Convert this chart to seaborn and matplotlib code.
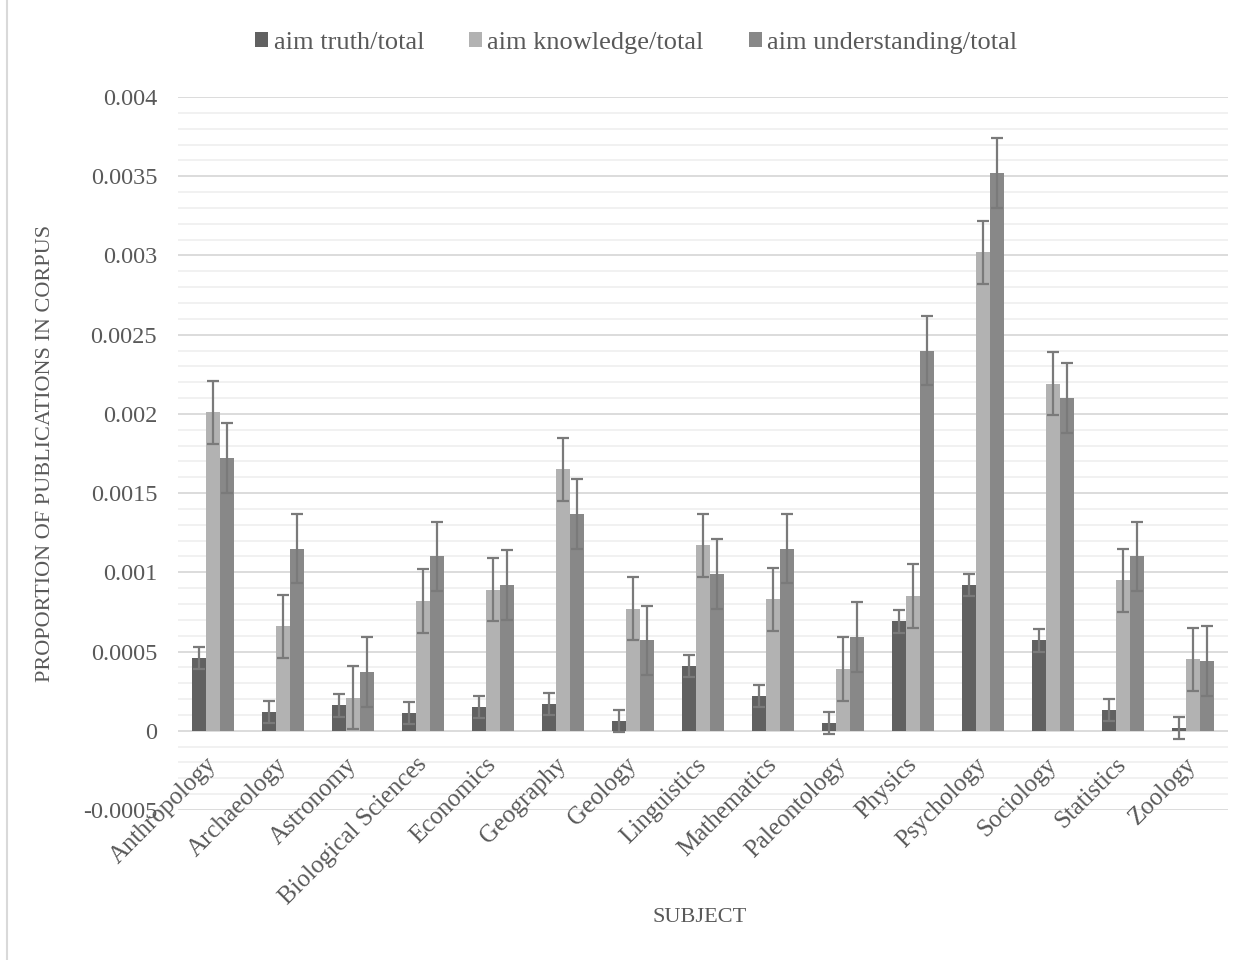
import matplotlib
matplotlib.use("Agg")
import matplotlib.pyplot as plt
from matplotlib.ticker import MultipleLocator, FuncFormatter
from matplotlib.lines import Line2D
import seaborn as sns
import pandas as pd

# Subjects and the share of publications in the corpus per aim
subjects = ["Anthropology", "Archaeology", "Astronomy", "Biological Sciences",
            "Economics", "Geography", "Geology", "Linguistics", "Mathematics",
            "Paleontology", "Physics", "Psychology", "Sociology", "Statistics",
            "Zoology"]
series_names = ["aim truth/total", "aim knowledge/total", "aim understanding/total"]

aim_truth = [0.00046, 0.00012, 0.00016, 0.00011, 0.00015, 0.00017, 0.00006,
             0.00041, 0.00022, 0.00005, 0.00069, 0.00092, 0.00057, 0.00013,
             0.00002]
aim_knowledge = [0.00201, 0.00066, 0.00021, 0.00082, 0.00089, 0.00165, 0.00077,
                 0.00117, 0.00083, 0.00039, 0.00085, 0.00302, 0.00219, 0.00095,
                 0.00045]
aim_understanding = [0.00172, 0.00115, 0.00037, 0.00110, 0.00092, 0.00137,
                     0.00057, 0.00099, 0.00115, 0.00059, 0.00240, 0.00352,
                     0.00210, 0.00110, 0.00044]

# Error margin per series (same for every subject within a series)
error_margins = [0.00007, 0.00020, 0.00022]

colors = ["#616161", "#b2b2b2", "#888888"]
text_color = "#595959"

rows = []
for name, vals in zip(series_names, [aim_truth, aim_knowledge, aim_understanding]):
    for subj, v in zip(subjects, vals):
        rows.append({"subject": subj, "series": name, "value": v})
df = pd.DataFrame(rows)

sns.set_style("white")
plt.rcParams["font.family"] = ["Liberation Serif", "DejaVu Serif"]
plt.rcParams["text.color"] = text_color

fig = plt.figure(figsize=(12.5, 9.6), dpi=100)
ax = fig.add_axes([178 / 1250, 1 - 810 / 960, 1050 / 1250, 713 / 960])

sns.barplot(data=df, x="subject", y="value", hue="series",
            order=subjects, hue_order=series_names, palette=colors,
            width=0.6, saturation=1, errorbar=None, ax=ax,
            edgecolor="none", linewidth=0)

# Error bars on top of each bar, taken from the drawn bar geometry
for container, err in zip(ax.containers, error_margins):
    xs = [p.get_x() + p.get_width() / 2 for p in container.patches]
    ys = [p.get_height() for p in container.patches]
    ax.errorbar(xs, ys, yerr=err, fmt="none", ecolor="#7a7a7a",
                elinewidth=1.6, capsize=4.5, capthick=1.6, zorder=4)

ax.set_ylim(-0.0005, 0.004)
ax.set_xlim(-0.5, len(subjects) - 0.5)
ax.yaxis.set_major_locator(MultipleLocator(0.0005))
ax.yaxis.set_minor_locator(MultipleLocator(0.0001))
ax.yaxis.set_major_formatter(FuncFormatter(lambda v, _: f"{v:g}" if abs(v) > 1e-12 else "0"))

ax.set_axisbelow(True)
ax.grid(which="minor", axis="y", color="#f0f0f0", linewidth=1.3)
ax.grid(which="major", axis="y", color="#d9d9d9", linewidth=1.3)
ax.grid(which="both", axis="x", visible=False)
# Category labels are drawn over the horizontal gridlines
ax.xaxis.set_zorder(3)

for side in ["top", "right", "left"]:
    ax.spines[side].set_visible(False)
# Category labels sit just below the zero line
ax.spines["bottom"].set_position(("data", 0))
ax.spines["bottom"].set_visible(False)

ax.tick_params(axis="y", which="both", length=0, pad=15, labelsize=17.5,
               labelcolor=text_color)
ax.tick_params(axis="x", which="both", length=0, pad=22, labelsize=18,
               labelcolor=text_color)
for lbl in ax.get_xticklabels():
    lbl.set_rotation(45)
    lbl.set_ha("right")
    lbl.set_va("center")
    lbl.set_rotation_mode("anchor")

ax.set_xlabel("SUBJECT", fontsize=16, color=text_color)
ax.set_ylabel("PROPORTION OF PUBLICATIONS IN CORPUS", fontsize=16, color=text_color)
ax.xaxis.set_label_coords(0.497, -0.137)
ax.yaxis.set_label_coords(-0.117, 0.5)

handles, labels = ax.get_legend_handles_labels()
ax.get_legend().remove()
fig.legend(handles, labels, loc="center", bbox_to_anchor=(0.509, 1 - 43 / 960),
           ncol=3, frameon=False, fontsize=19, handlelength=0.5,
           handleheight=0.5, handletextpad=0.2, columnspacing=1.7,
           labelcolor=text_color)

# Chart-area border on the left edge
fig.add_artist(Line2D([7 / 1250, 7 / 1250], [0, 1], transform=fig.transFigure,
                      color="#d9d9d9", linewidth=1.5))

fig.savefig("out.png", dpi=100, facecolor="white")
